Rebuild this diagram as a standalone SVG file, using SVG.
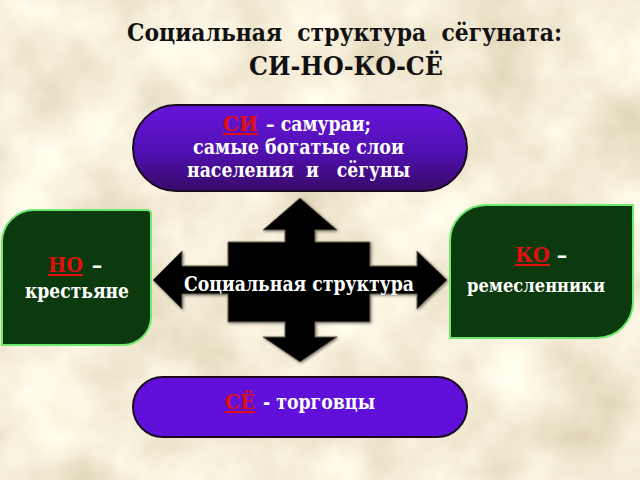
<svg xmlns="http://www.w3.org/2000/svg" width="640" height="480" viewBox="0 0 640 480">
<defs>
<filter id="paper" x="0" y="0" width="100%" height="100%">
<feTurbulence type="fractalNoise" baseFrequency="0.011" numOctaves="4" seed="7"/>
<feColorMatrix type="matrix" values="0.5 0 0 0 0.66  0.55 0 0 0 0.57  0.65 0 0 0 0.36  0 0 0 0 1"/>
</filter>
<linearGradient id="topGrad" x1="0" y1="0" x2="0" y2="1">
<stop offset="0" stop-color="#6814dc"/>
<stop offset="0.55" stop-color="#5010b0"/>
<stop offset="1" stop-color="#380a68"/>
</linearGradient>
<filter id="sh" x="-10%" y="-10%" width="120%" height="120%">
<feGaussianBlur in="SourceAlpha" stdDeviation="1.5"/>
<feOffset dx="1" dy="1"/>
<feComponentTransfer><feFuncA type="linear" slope="0.5"/></feComponentTransfer>
<feMerge><feMergeNode/><feMergeNode in="SourceGraphic"/></feMerge>
</filter>
</defs>
<style>
text { font-family: "DejaVu Serif", "Liberation Serif", serif; font-weight: bold; text-anchor: middle; }
.title { font-size: 26px; fill: #111; }
.w { fill: #ffffff; font-size: 21px; }
.red { fill: #e01010; font-size: 21px; text-decoration: underline; }
.pill { stroke: #1a0a20; stroke-width: 2; }
.green { fill: #0b3a0e; stroke: #6ee86e; stroke-width: 2; }
</style>
<rect x="0" y="0" width="640" height="480" filter="url(#paper)"/>

<g id="title">
<text class="title" x="127" y="41" style="font-size:24px;text-anchor:start" textLength="435" lengthAdjust="spacingAndGlyphs" xml:space="preserve">Социальная  структура  сёгуната:</text>
<text class="title" x="346" y="75" textLength="194" lengthAdjust="spacingAndGlyphs">СИ-НО-КО-СЁ</text>
</g>

<g id="connectors">
<path d="M300,198 L337,230 L315,230 L315,242 L370,242 L370,266 L417,266 L417,251 L447,280 L417,309 L417,294 L370,294 L370,322 L315,322 L315,337 L337,337 L300,362 L263,337 L285,337 L285,322 L228,322 L228,294 L182,294 L182,309 L153,280 L182,251 L182,266 L228,266 L228,242 L285,242 L285,230 L263,230 Z" fill="#000" stroke="#6a6050" stroke-width="1" filter="url(#sh)"/>
</g>

<g id="center">
<text class="w" x="299" y="291" textLength="230" lengthAdjust="spacingAndGlyphs">Социальная структура</text>
</g>

<g id="si">
<rect class="pill" x="133" y="105" width="334" height="86" rx="43" ry="43" fill="url(#topGrad)"/>
<text class="red" x="240.5" y="131" textLength="35" lengthAdjust="spacingAndGlyphs">СИ</text>
<text class="w" x="318.5" y="131" textLength="105" lengthAdjust="spacingAndGlyphs">– самураи;</text>
<text class="w" x="298.5" y="154" textLength="211" lengthAdjust="spacingAndGlyphs">самые богатые слои</text>
<text class="w" x="298.5" y="177" textLength="223" lengthAdjust="spacingAndGlyphs" xml:space="preserve">населения  и   сёгуны</text>
</g>

<g id="no">
<path class="green" d="M2,242 A32,32 0 0 1 34,210 L147,210 Q151,210 151,214 L151,317 A28,28 0 0 1 123,345 L2,345 Z"/>
<text class="red" x="65.5" y="272" textLength="35" lengthAdjust="spacingAndGlyphs">НО</text>
<text class="w" x="97" y="272">–</text>
<text class="w" x="77" y="298" textLength="104" lengthAdjust="spacingAndGlyphs">крестьяне</text>
</g>

<g id="ko">
<path class="green" d="M450,241 A36,36 0 0 1 486,205 L633,205 L633,302 A36,36 0 0 1 597,338 L450,338 Z"/>
<text class="red" x="532.5" y="262" textLength="35" lengthAdjust="spacingAndGlyphs">КО</text>
<text class="w" x="562" y="262">–</text>
<text class="w" x="467" y="292" style="font-size:19px;text-anchor:start" textLength="138" lengthAdjust="spacingAndGlyphs">ремесленники</text>
</g>

<g id="se">
<rect class="pill" x="133" y="377" width="334" height="60" rx="30" ry="30" fill="#6010d8"/>
<text class="red" x="240" y="409" textLength="30" lengthAdjust="spacingAndGlyphs">СЁ</text>
<text class="w" x="319" y="409" textLength="112" lengthAdjust="spacingAndGlyphs">- торговцы</text>
</g>
</svg>
